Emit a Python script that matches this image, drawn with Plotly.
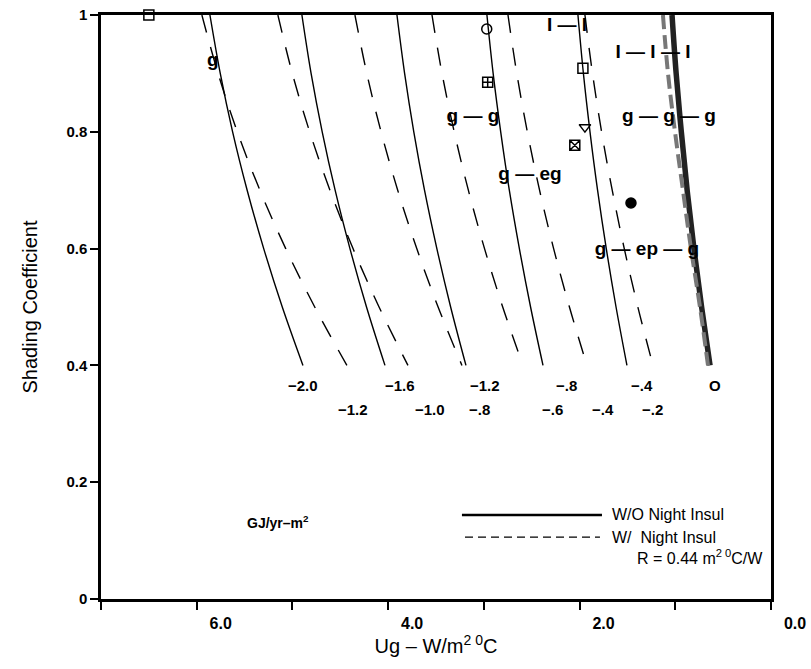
import plotly.graph_objects as go

# ---- data ----
sc_levels = [1.0, 0.9, 0.8, 0.7, 0.6, 0.5, 0.4]

# W/O night insulation contours (GJ/yr-m2): Ug values along sc_levels
solid_labels = ["−2.0", "−1.6", "−1.2", "−.8", "−.4", "O"]
solid_ug = [
    [5.862, 5.754, 5.625, 5.473, 5.300, 5.106, 4.890],
    [4.901, 4.805, 4.689, 4.554, 4.399, 4.226, 4.033],
    [3.908, 3.828, 3.732, 3.620, 3.491, 3.347, 3.187],
    [2.968, 2.903, 2.824, 2.734, 2.629, 2.512, 2.382],
    [2.017, 1.960, 1.891, 1.812, 1.721, 1.619, 1.505],
    [1.034, 0.991, 0.937, 0.876, 0.805, 0.725, 0.637],
]
solid_label_ug = [4.890, 3.877, 2.989, 2.132, 1.348, 0.585]

# W/ night insulation contours
dashed_labels = ["−1.2", "−1.0", "−.8", "−.6", "−.4", "−.2"]
dashed_ug = [
    [5.946, 5.777, 5.576, 5.340, 5.070, 4.767, 4.431],
    [5.152, 5.001, 4.820, 4.608, 4.367, 4.095, 3.793],
    [4.347, 4.223, 4.074, 3.900, 3.701, 3.478, 3.229],
    [3.542, 3.437, 3.310, 3.162, 2.993, 2.803, 2.591],
    [2.748, 2.656, 2.546, 2.418, 2.271, 2.106, 1.923],
    [1.944, 1.865, 1.770, 1.659, 1.533, 1.391, 1.233],
]
dashed_label_ug = [4.368, 3.563, 3.041, 2.278, 1.755, 1.243]
dashed_zero_ug = [1.129, 1.076, 1.003, 0.920, 0.836, 0.742, 0.658]

# glazing points
pt_ug = [6.50, 2.97, 1.965, 2.96, 1.944, 2.05, 1.463]
pt_sc = [1.00, 0.976, 0.909, 0.885, 0.808, 0.777, 0.678]
pt_symbol = ["square-open", "circle-open", "square-open", "square-cross-open",
             "triangle-down-open", "square-x-open", "circle"]

# glazing labels
glz_text = ["g", "I — I", "I — I — I", "g — g", "g — g — g", "g — eg", "g — ep — g"]
glz_ug = [5.831, 2.132, 1.233, 3.114, 1.066, 2.518, 1.296]
glz_sc = [0.920, 0.981, 0.935, 0.825, 0.825, 0.726, 0.598]

y_tickvals = [0, 0.2, 0.4, 0.6, 0.8, 1.0]
y_ticktext = ["0", "0.2", "0.4", "0.6", "0.8", "1"]

FONT = "Liberation Sans"

fig = go.Figure()

for ug in solid_ug[:-1]:
    fig.add_trace(go.Scatter(x=ug, y=sc_levels, mode="lines", line_shape="spline",
                             line=dict(color="black", width=1.4), showlegend=False,
                             hoverinfo="skip"))
for ug in dashed_ug:
    fig.add_trace(go.Scatter(x=ug, y=sc_levels, mode="lines", line_shape="spline",
                             line=dict(color="black", width=1.4, dash="18px,15px"),
                             showlegend=False, hoverinfo="skip"))
# thick zero contour
fig.add_trace(go.Scatter(x=solid_ug[-1], y=sc_levels, mode="lines", line_shape="spline",
                         line=dict(color="#222", width=5.5), showlegend=False, hoverinfo="skip"))
fig.add_trace(go.Scatter(x=dashed_zero_ug, y=sc_levels, mode="lines", line_shape="spline",
                         line=dict(color="#777", width=4, dash="14px,6px"),
                         showlegend=False, hoverinfo="skip"))

fig.add_trace(go.Scatter(x=pt_ug, y=pt_sc, mode="markers",
                         marker=dict(symbol=pt_symbol, size=10, color="black",
                                     line=dict(color="black", width=1.5)),
                         cliponaxis=False, showlegend=False, hoverinfo="skip"))

fig.add_trace(go.Scatter(x=glz_ug, y=glz_sc, mode="text", text=glz_text,
                         textfont=dict(family=FONT, size=19, color="black", weight="bold"),
                         showlegend=False, hoverinfo="skip", cliponaxis=False))

annotations = []
for t, u in zip(solid_labels, solid_label_ug):
    annotations.append(dict(x=u, y=0.366, text=t, showarrow=False,
                            font=dict(family=FONT, size=15, color="black", weight="bold")))
for t, u in zip(dashed_labels, dashed_label_ug):
    annotations.append(dict(x=u, y=0.324, text=t, showarrow=False,
                            font=dict(family=FONT, size=15, color="black", weight="bold")))

annotations.append(dict(x=5.151, y=0.132, text="GJ/yr–m<sup>2</sup>", showarrow=False,
                        font=dict(family=FONT, size=14, color="black", weight="bold")))
# legend texts
annotations.append(dict(x=1.682, y=0.144, text="W/O Night Insul", showarrow=False,
                        xanchor="left", font=dict(family=FONT, size=16, color="black")))
annotations.append(dict(x=1.682, y=0.106, text="W/  Night Insul", showarrow=False,
                        xanchor="left", font=dict(family=FONT, size=16, color="black")))
annotations.append(dict(x=0.063, y=0.072, text="R = 0.44 m<sup>2 0</sup>C/W", showarrow=False,
                        xanchor="right", font=dict(family=FONT, size=16, color="black")))

shapes = [
    dict(type="line", xref="x", yref="y", x0=3.229, x1=1.766, y0=0.144, y1=0.144,
         line=dict(color="black", width=2.5)),
    dict(type="line", xref="x", yref="y", x0=3.197, x1=1.787, y0=0.106, y1=0.106,
         line=dict(color="black", width=1.3, dash="8px,5px")),
]

fig.update_layout(
    width=811, height=669,
    margin=dict(l=101, r=40, t=15, b=70),
    plot_bgcolor="white", paper_bgcolor="white",
    annotations=annotations, shapes=shapes,
    font=dict(family=FONT, color="black"),
)
fig.update_xaxes(
    range=[7, 0], tickmode="linear", tick0=0, dtick=2, tickformat=".1f",
    ticks="outside", ticklen=8, tickwidth=1.5, tickcolor="black",
    minor=dict(dtick=1, tick0=0, ticks="outside", ticklen=8, tickwidth=1.5, tickcolor="black"),
    ticklabelshift=-24,
    tickfont=dict(family=FONT, size=16, weight="bold"),
    showgrid=False, zeroline=False,
    showline=True, linecolor="black", linewidth=2.5, mirror=True,
    title=dict(text="Ug – W/m<sup>2 0</sup>C", font=dict(family=FONT, size=20), standoff=6),
    automargin=False,
)
fig.update_yaxes(
    range=[0, 1], tickvals=y_tickvals, ticktext=y_ticktext,
    ticks="outside", ticklen=8, tickwidth=1.5, tickcolor="black",
    tickfont=dict(family=FONT, size=15, weight="bold"),
    showgrid=False, zeroline=False,
    showline=True, linecolor="black", linewidth=2.5, mirror=True,
    title=dict(text="Shading Coefficient", font=dict(family=FONT, size=20), standoff=24),
    automargin=False,
)

fig.write_html("out.html")
